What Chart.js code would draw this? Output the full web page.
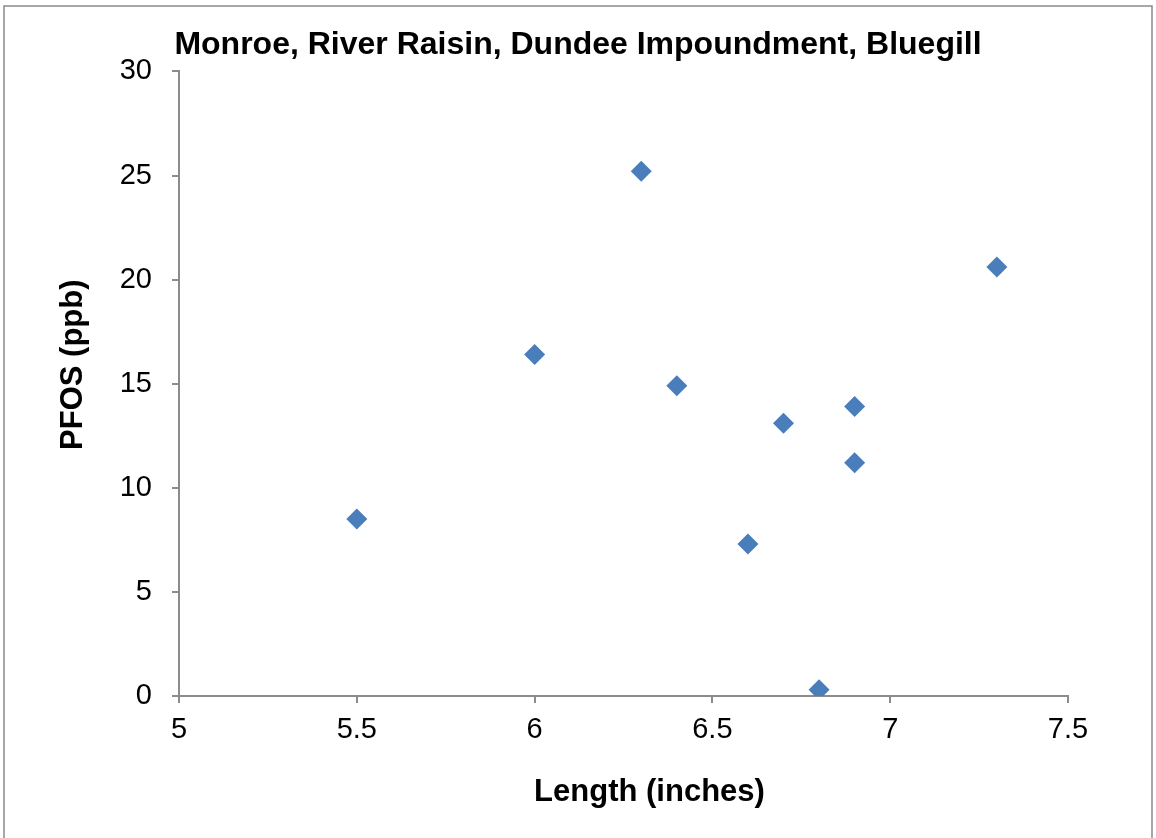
<!DOCTYPE html>
<html>
<head>
<meta charset="utf-8">
<script src="https://cdn.jsdelivr.net/npm/chart.js@4/dist/chart.umd.min.js"></script>
<style>
    html, body { margin: 0; padding: 0; background: #ffffff; }
    #wrap { width: 1156px; height: 838px; }
</style>
</head>
<body>
<div id="wrap"><canvas id="fishChart" width="1156" height="838"></canvas></div>
<script>
// Length (inches) and PFOS (ppb) for each fish
const lengths = [5.5, 6.0, 6.3, 6.4, 6.6, 6.7, 6.8, 6.9, 6.9, 7.3];
const pfos = [8.5, 16.4, 25.2, 14.9, 7.3, 13.1, 0.3, 13.9, 11.2, 20.6];

// Axis ticks
const xTicks = [5, 5.5, 6, 6.5, 7, 7.5];
const yTicks = [0, 5, 10, 15, 20, 25, 30];

const chartTitle = 'Monroe, River Raisin, Dundee Impoundment, Bluegill';
const xTitle = 'Length (inches)';
const yTitle = 'PFOS (ppb)';

const axisColor = '#8c8c8c';
const markerColor = '#4a7ebb';
const fontFamily = '"Liberation Sans", Arial, sans-serif';
const titleFont = 'bold 31px ' + fontFamily;

// Thin grey frame round the whole chart, like the Excel chart border
const framePlugin = {
    id: 'frame',
    afterDraw(chart) {
        const ctx = chart.ctx;
        ctx.save();
        ctx.strokeStyle = '#8a8a8a';
        ctx.lineWidth = 1.5;
        ctx.strokeRect(4, 6, 1148, 900);
        ctx.restore();
    }
};

// Axis titles sit a bit off centre in the Excel original, so draw them here
const axisTitlePlugin = {
    id: 'axisTitles',
    afterDraw(chart) {
        const ctx = chart.ctx;
        const area = chart.chartArea;
        ctx.save();
        ctx.fillStyle = '#000000';
        ctx.font = titleFont;
        ctx.textAlign = 'center';
        ctx.textBaseline = 'middle';
        // x title
        ctx.fillText(xTitle, (area.left + area.right) / 2 + 26, area.bottom + 96);
        // y title, rotated
        ctx.translate(area.left - 106, (area.top + area.bottom) / 2 - 19);
        ctx.rotate(-Math.PI / 2);
        ctx.fillText(yTitle, 0, 0);
        ctx.restore();
    }
};

document.addEventListener("DOMContentLoaded", function () {
    const ctx = document.getElementById("fishChart").getContext("2d");

    const points = lengths.map((x, i) => ({ x: x, y: pfos[i] }));

    new Chart(ctx, {
        type: 'scatter',
        data: {
            datasets: [{
                label: 'PFOS',
                data: points,
                pointStyle: 'rectRot',
                pointRadius: 10.5,
                pointHoverRadius: 10.5,
                backgroundColor: markerColor,
                borderColor: markerColor,
                borderWidth: 0
            }]
        },
        options: {
            responsive: false,
            animation: false,
            layout: { padding: 0 },
            plugins: {
                legend: { display: false },
                tooltip: { enabled: false },
                title: {
                    display: true,
                    text: chartTitle,
                    color: '#000000',
                    font: { family: fontFamily, size: 32, weight: 'bold' },
                    padding: { top: 26, bottom: 7 }
                }
            },
            scales: {
                x: {
                    type: 'linear',
                    min: 5,
                    max: 7.5,
                    afterFit: (scale) => { scale.height = 142; },
                    afterBuildTicks: (scale) => { scale.ticks = xTicks.map(v => ({ value: v })); },
                    grid: {
                        drawOnChartArea: false,
                        drawTicks: true,
                        tickLength: 7,
                        color: axisColor,
                        lineWidth: 2
                    },
                    border: { display: true, color: axisColor, width: 2 },
                    ticks: {
                        color: '#000000',
                        padding: 10,
                        maxRotation: 0,
                        font: { family: fontFamily, size: 29 },
                        callback: (v) => String(v)
                    }
                },
                y: {
                    type: 'linear',
                    min: 0,
                    max: 30,
                    afterFit: (scale) => { scale.width = 179; },
                    afterBuildTicks: (scale) => { scale.ticks = yTicks.map(v => ({ value: v })); },
                    grid: {
                        drawOnChartArea: false,
                        drawTicks: true,
                        tickLength: 7,
                        color: axisColor,
                        lineWidth: 2
                    },
                    border: { display: true, color: axisColor, width: 2 },
                    ticks: {
                        color: '#000000',
                        padding: 20,
                        font: { family: fontFamily, size: 29 },
                        callback: (v) => String(v)
                    }
                },
                // empty right-hand axis, only there to keep room on the right
                yRight: {
                    type: 'linear',
                    position: 'right',
                    afterFit: (scale) => { scale.width = 88; },
                    grid: { display: false },
                    border: { display: false },
                    ticks: { display: false }
                }
            }
        },
        plugins: [framePlugin, axisTitlePlugin]
    });
});
</script>
</body>
</html>
